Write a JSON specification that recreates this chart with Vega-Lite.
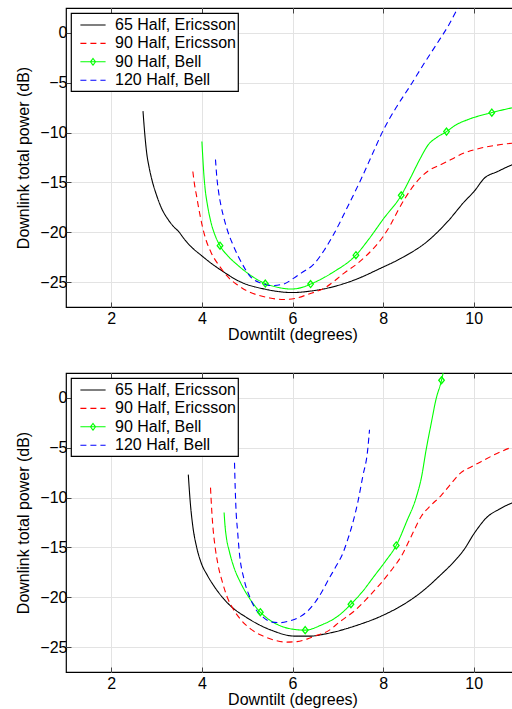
{
  "$schema": "https://vega.github.io/schema/vega-lite/v6.json",
  "padding": {"left": 15, "top": 6, "right": 0, "bottom": 0},
  "spacing": 28,
  "datasets": {
    "top": [
      {"s": "65 Half, Ericsson", "x": 2.70, "y": -7.85}, {"s": "65 Half, Ericsson", "x": 2.74, "y": -10.2}, {"s": "65 Half, Ericsson", "x": 2.78, "y": -12.0}, {"s": "65 Half, Ericsson", "x": 2.84, "y": -13.6}, {"s": "65 Half, Ericsson", "x": 2.90, "y": -14.8}, {"s": "65 Half, Ericsson", "x": 3.0, "y": -16.3}, {"s": "65 Half, Ericsson", "x": 3.10, "y": -17.5}, {"s": "65 Half, Ericsson", "x": 3.25, "y": -18.7}, {"s": "65 Half, Ericsson", "x": 3.39, "y": -19.5}, {"s": "65 Half, Ericsson", "x": 3.50, "y": -20.0}, {"s": "65 Half, Ericsson", "x": 3.58, "y": -20.5}, {"s": "65 Half, Ericsson", "x": 3.75, "y": -21.4}, {"s": "65 Half, Ericsson", "x": 3.98, "y": -22.3}, {"s": "65 Half, Ericsson", "x": 4.2, "y": -23.1}, {"s": "65 Half, Ericsson", "x": 4.42, "y": -23.8}, {"s": "65 Half, Ericsson", "x": 4.86, "y": -25.0}, {"s": "65 Half, Ericsson", "x": 5.38, "y": -25.7}, {"s": "65 Half, Ericsson", "x": 6.0, "y": -26.05}, {"s": "65 Half, Ericsson", "x": 6.4, "y": -25.9}, {"s": "65 Half, Ericsson", "x": 6.78, "y": -25.6}, {"s": "65 Half, Ericsson", "x": 7.36, "y": -24.8}, {"s": "65 Half, Ericsson", "x": 7.95, "y": -23.6}, {"s": "65 Half, Ericsson", "x": 8.40, "y": -22.6}, {"s": "65 Half, Ericsson", "x": 8.98, "y": -20.9}, {"s": "65 Half, Ericsson", "x": 9.43, "y": -18.9}, {"s": "65 Half, Ericsson", "x": 9.80, "y": -16.9}, {"s": "65 Half, Ericsson", "x": 10.01, "y": -15.9}, {"s": "65 Half, Ericsson", "x": 10.23, "y": -14.6}, {"s": "65 Half, Ericsson", "x": 10.53, "y": -13.9}, {"s": "65 Half, Ericsson", "x": 10.87, "y": -13.2}, {"s": "65 Half, Ericsson", "x": 11.0, "y": -13.0},
      {"s": "90 Half, Ericsson", "x": 3.80, "y": -13.9}, {"s": "90 Half, Ericsson", "x": 3.84, "y": -15.3}, {"s": "90 Half, Ericsson", "x": 3.88, "y": -16.3}, {"s": "90 Half, Ericsson", "x": 3.93, "y": -17.6}, {"s": "90 Half, Ericsson", "x": 4.02, "y": -19.6}, {"s": "90 Half, Ericsson", "x": 4.10, "y": -20.9}, {"s": "90 Half, Ericsson", "x": 4.20, "y": -22.0}, {"s": "90 Half, Ericsson", "x": 4.42, "y": -23.6}, {"s": "90 Half, Ericsson", "x": 4.6, "y": -24.6}, {"s": "90 Half, Ericsson", "x": 4.79, "y": -25.3}, {"s": "90 Half, Ericsson", "x": 5.0, "y": -25.9}, {"s": "90 Half, Ericsson", "x": 5.23, "y": -26.3}, {"s": "90 Half, Ericsson", "x": 5.5, "y": -26.6}, {"s": "90 Half, Ericsson", "x": 5.8, "y": -26.75}, {"s": "90 Half, Ericsson", "x": 6.05, "y": -26.65}, {"s": "90 Half, Ericsson", "x": 6.33, "y": -26.25}, {"s": "90 Half, Ericsson", "x": 6.74, "y": -25.5}, {"s": "90 Half, Ericsson", "x": 7.14, "y": -24.1}, {"s": "90 Half, Ericsson", "x": 7.47, "y": -23.0}, {"s": "90 Half, Ericsson", "x": 7.77, "y": -21.7}, {"s": "90 Half, Ericsson", "x": 7.99, "y": -20.5}, {"s": "90 Half, Ericsson", "x": 8.17, "y": -19.2}, {"s": "90 Half, Ericsson", "x": 8.32, "y": -17.9}, {"s": "90 Half, Ericsson", "x": 8.47, "y": -16.7}, {"s": "90 Half, Ericsson", "x": 8.73, "y": -15.0}, {"s": "90 Half, Ericsson", "x": 8.98, "y": -13.9}, {"s": "90 Half, Ericsson", "x": 9.28, "y": -13.2}, {"s": "90 Half, Ericsson", "x": 9.50, "y": -12.7}, {"s": "90 Half, Ericsson", "x": 9.79, "y": -12.05}, {"s": "90 Half, Ericsson", "x": 10.16, "y": -11.55}, {"s": "90 Half, Ericsson", "x": 10.6, "y": -11.2}, {"s": "90 Half, Ericsson", "x": 11.0, "y": -11.0},
      {"s": "90 Half, Bell", "x": 4.0, "y": -10.9}, {"s": "90 Half, Bell", "x": 4.02, "y": -12.5}, {"s": "90 Half, Bell", "x": 4.04, "y": -14.0}, {"s": "90 Half, Bell", "x": 4.07, "y": -15.6}, {"s": "90 Half, Bell", "x": 4.12, "y": -17.2}, {"s": "90 Half, Bell", "x": 4.20, "y": -19.0}, {"s": "90 Half, Bell", "x": 4.29, "y": -20.3}, {"s": "90 Half, Bell", "x": 4.40, "y": -21.35, "m": 1}, {"s": "90 Half, Bell", "x": 4.6, "y": -22.5}, {"s": "90 Half, Bell", "x": 4.79, "y": -23.3}, {"s": "90 Half, Bell", "x": 5.1, "y": -24.4}, {"s": "90 Half, Bell", "x": 5.40, "y": -25.15, "m": 1}, {"s": "90 Half, Bell", "x": 5.7, "y": -25.55}, {"s": "90 Half, Bell", "x": 5.97, "y": -25.7}, {"s": "90 Half, Bell", "x": 6.2, "y": -25.55}, {"s": "90 Half, Bell", "x": 6.40, "y": -25.2, "m": 1}, {"s": "90 Half, Bell", "x": 6.9, "y": -24.0}, {"s": "90 Half, Bell", "x": 7.40, "y": -22.3, "m": 1}, {"s": "90 Half, Bell", "x": 7.7, "y": -20.6}, {"s": "90 Half, Bell", "x": 8.0, "y": -18.7}, {"s": "90 Half, Bell", "x": 8.40, "y": -16.3, "m": 1}, {"s": "90 Half, Bell", "x": 8.62, "y": -14.4}, {"s": "90 Half, Bell", "x": 8.82, "y": -12.6}, {"s": "90 Half, Bell", "x": 9.0, "y": -11.2}, {"s": "90 Half, Bell", "x": 9.18, "y": -10.5}, {"s": "90 Half, Bell", "x": 9.40, "y": -9.9, "m": 1}, {"s": "90 Half, Bell", "x": 9.6, "y": -9.25}, {"s": "90 Half, Bell", "x": 9.87, "y": -8.7}, {"s": "90 Half, Bell", "x": 10.40, "y": -8.0, "m": 1}, {"s": "90 Half, Bell", "x": 10.87, "y": -7.5}, {"s": "90 Half, Bell", "x": 11.0, "y": -7.4},
      {"s": "120 Half, Bell", "x": 4.30, "y": -12.7}, {"s": "120 Half, Bell", "x": 4.33, "y": -14.5}, {"s": "120 Half, Bell", "x": 4.37, "y": -16.0}, {"s": "120 Half, Bell", "x": 4.42, "y": -17.3}, {"s": "120 Half, Bell", "x": 4.47, "y": -18.3}, {"s": "120 Half, Bell", "x": 4.57, "y": -19.9}, {"s": "120 Half, Bell", "x": 4.68, "y": -21.2}, {"s": "120 Half, Bell", "x": 4.79, "y": -22.3}, {"s": "120 Half, Bell", "x": 4.93, "y": -23.5}, {"s": "120 Half, Bell", "x": 5.08, "y": -24.5}, {"s": "120 Half, Bell", "x": 5.3, "y": -25.1}, {"s": "120 Half, Bell", "x": 5.55, "y": -25.35}, {"s": "120 Half, Bell", "x": 5.8, "y": -25.2}, {"s": "120 Half, Bell", "x": 6.03, "y": -24.6}, {"s": "120 Half, Bell", "x": 6.19, "y": -24.1}, {"s": "120 Half, Bell", "x": 6.47, "y": -23.2}, {"s": "120 Half, Bell", "x": 6.7, "y": -21.8}, {"s": "120 Half, Bell", "x": 6.91, "y": -20.2}, {"s": "120 Half, Bell", "x": 7.2, "y": -17.6}, {"s": "120 Half, Bell", "x": 7.5, "y": -14.8}, {"s": "120 Half, Bell", "x": 7.75, "y": -12.3}, {"s": "120 Half, Bell", "x": 8.0, "y": -9.8}, {"s": "120 Half, Bell", "x": 8.3, "y": -7.4}, {"s": "120 Half, Bell", "x": 8.6, "y": -5.3}, {"s": "120 Half, Bell", "x": 8.9, "y": -3.1}, {"s": "120 Half, Bell", "x": 9.2, "y": -1.0}, {"s": "120 Half, Bell", "x": 9.45, "y": 0.8}, {"s": "120 Half, Bell", "x": 9.65, "y": 2.5}, {"s": "120 Half, Bell", "x": 9.75, "y": 3.3}
    ],
    "bottom": [
      {"s": "65 Half, Ericsson", "x": 3.70, "y": -7.7}, {"s": "65 Half, Ericsson", "x": 3.74, "y": -10.3}, {"s": "65 Half, Ericsson", "x": 3.80, "y": -12.9}, {"s": "65 Half, Ericsson", "x": 3.88, "y": -14.9}, {"s": "65 Half, Ericsson", "x": 3.98, "y": -16.5}, {"s": "65 Half, Ericsson", "x": 4.12, "y": -17.8}, {"s": "65 Half, Ericsson", "x": 4.27, "y": -18.9}, {"s": "65 Half, Ericsson", "x": 4.57, "y": -20.6}, {"s": "65 Half, Ericsson", "x": 5.01, "y": -22.1}, {"s": "65 Half, Ericsson", "x": 5.53, "y": -23.3}, {"s": "65 Half, Ericsson", "x": 6.05, "y": -23.9}, {"s": "65 Half, Ericsson", "x": 6.4, "y": -23.9}, {"s": "65 Half, Ericsson", "x": 6.7, "y": -23.7}, {"s": "65 Half, Ericsson", "x": 7.4, "y": -22.85}, {"s": "65 Half, Ericsson", "x": 8.05, "y": -21.7}, {"s": "65 Half, Ericsson", "x": 8.53, "y": -20.5}, {"s": "65 Half, Ericsson", "x": 8.84, "y": -19.5}, {"s": "65 Half, Ericsson", "x": 9.26, "y": -17.8}, {"s": "65 Half, Ericsson", "x": 9.55, "y": -16.5}, {"s": "65 Half, Ericsson", "x": 9.79, "y": -15.2}, {"s": "65 Half, Ericsson", "x": 10.01, "y": -13.6}, {"s": "65 Half, Ericsson", "x": 10.31, "y": -11.9}, {"s": "65 Half, Ericsson", "x": 10.55, "y": -11.2}, {"s": "65 Half, Ericsson", "x": 10.87, "y": -10.5}, {"s": "65 Half, Ericsson", "x": 11.0, "y": -10.3},
      {"s": "90 Half, Ericsson", "x": 4.19, "y": -9.0}, {"s": "90 Half, Ericsson", "x": 4.22, "y": -11.5}, {"s": "90 Half, Ericsson", "x": 4.25, "y": -13.3}, {"s": "90 Half, Ericsson", "x": 4.29, "y": -14.9}, {"s": "90 Half, Ericsson", "x": 4.35, "y": -16.6}, {"s": "90 Half, Ericsson", "x": 4.46, "y": -18.6}, {"s": "90 Half, Ericsson", "x": 4.56, "y": -20.0}, {"s": "90 Half, Ericsson", "x": 4.68, "y": -21.1}, {"s": "90 Half, Ericsson", "x": 4.85, "y": -22.2}, {"s": "90 Half, Ericsson", "x": 5.08, "y": -23.2}, {"s": "90 Half, Ericsson", "x": 5.35, "y": -23.9}, {"s": "90 Half, Ericsson", "x": 5.60, "y": -24.3}, {"s": "90 Half, Ericsson", "x": 5.85, "y": -24.5}, {"s": "90 Half, Ericsson", "x": 6.1, "y": -24.45}, {"s": "90 Half, Ericsson", "x": 6.32, "y": -24.2}, {"s": "90 Half, Ericsson", "x": 6.55, "y": -23.8}, {"s": "90 Half, Ericsson", "x": 6.78, "y": -23.4}, {"s": "90 Half, Ericsson", "x": 7.06, "y": -22.4}, {"s": "90 Half, Ericsson", "x": 7.36, "y": -21.4}, {"s": "90 Half, Ericsson", "x": 7.65, "y": -20.1}, {"s": "90 Half, Ericsson", "x": 7.95, "y": -18.6}, {"s": "90 Half, Ericsson", "x": 8.18, "y": -17.3}, {"s": "90 Half, Ericsson", "x": 8.40, "y": -15.9}, {"s": "90 Half, Ericsson", "x": 8.62, "y": -13.9}, {"s": "90 Half, Ericsson", "x": 8.84, "y": -11.9}, {"s": "90 Half, Ericsson", "x": 9.05, "y": -10.8}, {"s": "90 Half, Ericsson", "x": 9.28, "y": -9.8}, {"s": "90 Half, Ericsson", "x": 9.50, "y": -8.6}, {"s": "90 Half, Ericsson", "x": 9.72, "y": -7.5}, {"s": "90 Half, Ericsson", "x": 9.95, "y": -6.9}, {"s": "90 Half, Ericsson", "x": 10.16, "y": -6.4}, {"s": "90 Half, Ericsson", "x": 10.5, "y": -5.6}, {"s": "90 Half, Ericsson", "x": 10.87, "y": -4.9}, {"s": "90 Half, Ericsson", "x": 11.0, "y": -4.7},
      {"s": "90 Half, Bell", "x": 4.49, "y": -11.5}, {"s": "90 Half, Bell", "x": 4.51, "y": -12.8}, {"s": "90 Half, Bell", "x": 4.54, "y": -14.0}, {"s": "90 Half, Bell", "x": 4.60, "y": -15.3}, {"s": "90 Half, Bell", "x": 4.70, "y": -16.9}, {"s": "90 Half, Bell", "x": 4.86, "y": -18.6}, {"s": "90 Half, Bell", "x": 5.05, "y": -20.1}, {"s": "90 Half, Bell", "x": 5.29, "y": -21.5, "m": 1}, {"s": "90 Half, Bell", "x": 5.5, "y": -22.3}, {"s": "90 Half, Bell", "x": 5.75, "y": -22.9}, {"s": "90 Half, Bell", "x": 6.0, "y": -23.2}, {"s": "90 Half, Bell", "x": 6.28, "y": -23.3, "m": 1}, {"s": "90 Half, Bell", "x": 6.63, "y": -22.8}, {"s": "90 Half, Bell", "x": 7.0, "y": -21.9}, {"s": "90 Half, Bell", "x": 7.29, "y": -20.7, "m": 1}, {"s": "90 Half, Bell", "x": 7.55, "y": -19.4}, {"s": "90 Half, Bell", "x": 7.8, "y": -17.9}, {"s": "90 Half, Bell", "x": 8.05, "y": -16.4}, {"s": "90 Half, Bell", "x": 8.29, "y": -14.8, "m": 1}, {"s": "90 Half, Bell", "x": 8.52, "y": -12.4}, {"s": "90 Half, Bell", "x": 8.73, "y": -10.0}, {"s": "90 Half, Bell", "x": 8.85, "y": -7.9}, {"s": "90 Half, Bell", "x": 8.95, "y": -5.2}, {"s": "90 Half, Bell", "x": 9.06, "y": -2.6}, {"s": "90 Half, Bell", "x": 9.17, "y": -0.1}, {"s": "90 Half, Bell", "x": 9.29, "y": 1.77, "m": 1}, {"s": "90 Half, Bell", "x": 9.36, "y": 3.3},
      {"s": "120 Half, Bell", "x": 4.72, "y": -6.5}, {"s": "120 Half, Bell", "x": 4.735, "y": -9.0}, {"s": "120 Half, Bell", "x": 4.75, "y": -10.9}, {"s": "120 Half, Bell", "x": 4.79, "y": -13.5}, {"s": "120 Half, Bell", "x": 4.82, "y": -15.2}, {"s": "120 Half, Bell", "x": 4.93, "y": -18.2}, {"s": "120 Half, Bell", "x": 5.05, "y": -19.9}, {"s": "120 Half, Bell", "x": 5.16, "y": -21.0}, {"s": "120 Half, Bell", "x": 5.35, "y": -22.0}, {"s": "120 Half, Bell", "x": 5.55, "y": -22.5}, {"s": "120 Half, Bell", "x": 5.75, "y": -22.55}, {"s": "120 Half, Bell", "x": 5.95, "y": -22.35}, {"s": "120 Half, Bell", "x": 6.15, "y": -22.0}, {"s": "120 Half, Bell", "x": 6.33, "y": -21.4}, {"s": "120 Half, Bell", "x": 6.5, "y": -20.5}, {"s": "120 Half, Bell", "x": 6.63, "y": -19.6}, {"s": "120 Half, Bell", "x": 6.81, "y": -18.1}, {"s": "120 Half, Bell", "x": 6.96, "y": -16.9}, {"s": "120 Half, Bell", "x": 7.11, "y": -15.6}, {"s": "120 Half, Bell", "x": 7.22, "y": -14.2}, {"s": "120 Half, Bell", "x": 7.33, "y": -12.55}, {"s": "120 Half, Bell", "x": 7.44, "y": -10.5}, {"s": "120 Half, Bell", "x": 7.55, "y": -7.9}, {"s": "120 Half, Bell", "x": 7.66, "y": -5.2}, {"s": "120 Half, Bell", "x": 7.70, "y": -3.2}
    ]
  },
  "vconcat": [
    {
      "width": 453, "height": 299,
      "data": {"name": "top"},
      "layer": [
        {
          "mark": {"type": "line", "clip": true, "strokeWidth": 1.1, "interpolate": "monotone"},
          "encoding": {
            "x": {"field": "x", "type": "quantitative", "scale": {"domain": [1, 11], "nice": false, "zero": false}, "axis": {"title": "Downtilt (degrees)", "values": [2, 4, 6, 8, 10], "orient": "bottom", "labelPadding": 8, "titlePadding": 0}},
            "y": {"field": "y", "type": "quantitative", "scale": {"domain": [-27.5, 2.5], "nice": false, "zero": false}, "axis": {"title": "Downlink total power (dB)", "values": [-25, -20, -15, -10, -5, 0], "orient": "left", "titlePadding": 8}},
            "color": {"field": "s", "type": "nominal", "scale": {"domain": ["65 Half, Ericsson", "90 Half, Ericsson", "90 Half, Bell", "120 Half, Bell"], "range": ["#000000", "#ff0000", "#00ff00", "#0000ff"]}, "legend": {"title": null, "encode": {"symbols": {"update": {"shape": {"signal": "datum.value === '90 Half, Bell' ? 'M-1.4,0L1.4,0M0,-0.37L0.28,0L0,0.37L-0.28,0Z' : 'M-1.4,0L1.4,0'"}, "strokeDash": {"signal": "datum.value === '120 Half, Bell' ? [7,4,2,4] : datum.value === '90 Half, Ericsson' ? [6,4] : [1,0]"}}}}}},
            "strokeDash": {"field": "s", "type": "nominal", "scale": {"domain": ["65 Half, Ericsson", "90 Half, Ericsson", "90 Half, Bell", "120 Half, Bell"], "range": [[1, 0], [6, 4], [1, 0], [6, 4]]}, "legend": {"title": null, "encode": {"symbols": {"update": {"shape": {"signal": "datum.value === '90 Half, Bell' ? 'M-1.4,0L1.4,0M0,-0.37L0.28,0L0,0.37L-0.28,0Z' : 'M-1.4,0L1.4,0'"}, "strokeDash": {"signal": "datum.value === '120 Half, Bell' ? [7,4,2,4] : datum.value === '90 Half, Ericsson' ? [6,4] : [1,0]"}}}}}}
          }
        },
        {
          "transform": [{"filter": "datum.m == 1"}],
          "mark": {"type": "point", "shape": "M0,-1L0.8,0L0,1L-0.8,0Z", "size": 49, "filled": false, "color": "#00ff00", "strokeWidth": 1.3, "opacity": 1, "clip": true},
          "encoding": {
            "x": {"field": "x", "type": "quantitative", "scale": {"domain": [1, 11], "nice": false, "zero": false}, "axis": {"title": null, "labels": false, "grid": false, "values": [2, 4, 6, 8, 10], "orient": "top"}},
            "y": {"field": "y", "type": "quantitative", "scale": {"domain": [-27.5, 2.5], "nice": false, "zero": false}, "axis": {"title": null, "labels": false, "grid": false, "values": [-25, -20, -15, -10, -5, 0], "orient": "right"}}
          }
        }
      ],
      "resolve": {"axis": {"x": "independent", "y": "independent"}}
    },
    {
      "width": 453, "height": 299,
      "data": {"name": "bottom"},
      "layer": [
        {
          "mark": {"type": "line", "clip": true, "strokeWidth": 1.1, "interpolate": "monotone"},
          "encoding": {
            "x": {"field": "x", "type": "quantitative", "scale": {"domain": [1, 11], "nice": false, "zero": false}, "axis": {"title": "Downtilt (degrees)", "values": [2, 4, 6, 8, 10], "orient": "bottom", "labelPadding": 8, "titlePadding": 0}},
            "y": {"field": "y", "type": "quantitative", "scale": {"domain": [-27.5, 2.5], "nice": false, "zero": false}, "axis": {"title": "Downlink total power (dB)", "values": [-25, -20, -15, -10, -5, 0], "orient": "left", "titlePadding": 8}},
            "color": {"field": "s", "type": "nominal", "scale": {"domain": ["65 Half, Ericsson", "90 Half, Ericsson", "90 Half, Bell", "120 Half, Bell"], "range": ["#000000", "#ff0000", "#00ff00", "#0000ff"]}, "legend": {"title": null, "encode": {"symbols": {"update": {"shape": {"signal": "datum.value === '90 Half, Bell' ? 'M-1.4,0L1.4,0M0,-0.37L0.28,0L0,0.37L-0.28,0Z' : 'M-1.4,0L1.4,0'"}, "strokeDash": {"signal": "datum.value === '120 Half, Bell' ? [7,4,2,4] : datum.value === '90 Half, Ericsson' ? [6,4] : [1,0]"}}}}}},
            "strokeDash": {"field": "s", "type": "nominal", "scale": {"domain": ["65 Half, Ericsson", "90 Half, Ericsson", "90 Half, Bell", "120 Half, Bell"], "range": [[1, 0], [6, 4], [1, 0], [6, 4]]}, "legend": {"title": null, "encode": {"symbols": {"update": {"shape": {"signal": "datum.value === '90 Half, Bell' ? 'M-1.4,0L1.4,0M0,-0.37L0.28,0L0,0.37L-0.28,0Z' : 'M-1.4,0L1.4,0'"}, "strokeDash": {"signal": "datum.value === '120 Half, Bell' ? [7,4,2,4] : datum.value === '90 Half, Ericsson' ? [6,4] : [1,0]"}}}}}}
          }
        },
        {
          "transform": [{"filter": "datum.m == 1"}],
          "mark": {"type": "point", "shape": "M0,-1L0.8,0L0,1L-0.8,0Z", "size": 49, "filled": false, "color": "#00ff00", "strokeWidth": 1.3, "opacity": 1, "clip": true},
          "encoding": {
            "x": {"field": "x", "type": "quantitative", "scale": {"domain": [1, 11], "nice": false, "zero": false}, "axis": {"title": null, "labels": false, "grid": false, "values": [2, 4, 6, 8, 10], "orient": "top"}},
            "y": {"field": "y", "type": "quantitative", "scale": {"domain": [-27.5, 2.5], "nice": false, "zero": false}, "axis": {"title": null, "labels": false, "grid": false, "values": [-25, -20, -15, -10, -5, 0], "orient": "right"}}
          }
        }
      ],
      "resolve": {"axis": {"x": "independent", "y": "independent"}}
    }
  ],
  "resolve": {"scale": {"color": "independent", "strokeDash": "independent"}, "legend": {"color": "independent", "strokeDash": "independent"}},
  "config": {
    "font": "Liberation Sans",
    "view": {"stroke": "#000000", "strokeWidth": 1.2},
    "axis": {"labelFont": "Liberation Sans", "labelFontSize": 16, "labelColor": "#000000", "titleFont": "Liberation Sans", "titleFontSize": 16, "titleFontWeight": "normal", "titleColor": "#000000", "domain": false, "gridColor": "#e3e3e3", "gridWidth": 1, "tickColor": "#444444", "tickSize": -5, "tickWidth": 1, "labelPadding": 4, "titlePadding": 0},
    "legend": {"orient": "top-left", "offset": 5, "padding": 2, "fillColor": "#ffffff", "strokeColor": "#000000", "strokeWidth": 1.2, "labelFont": "Liberation Sans", "labelFontSize": 16, "labelColor": "#000000", "symbolSize": 324, "symbolStrokeWidth": 1.1, "rowPadding": 0.4, "labelOffset": 12, "symbolOffset": 10}
  }
}
